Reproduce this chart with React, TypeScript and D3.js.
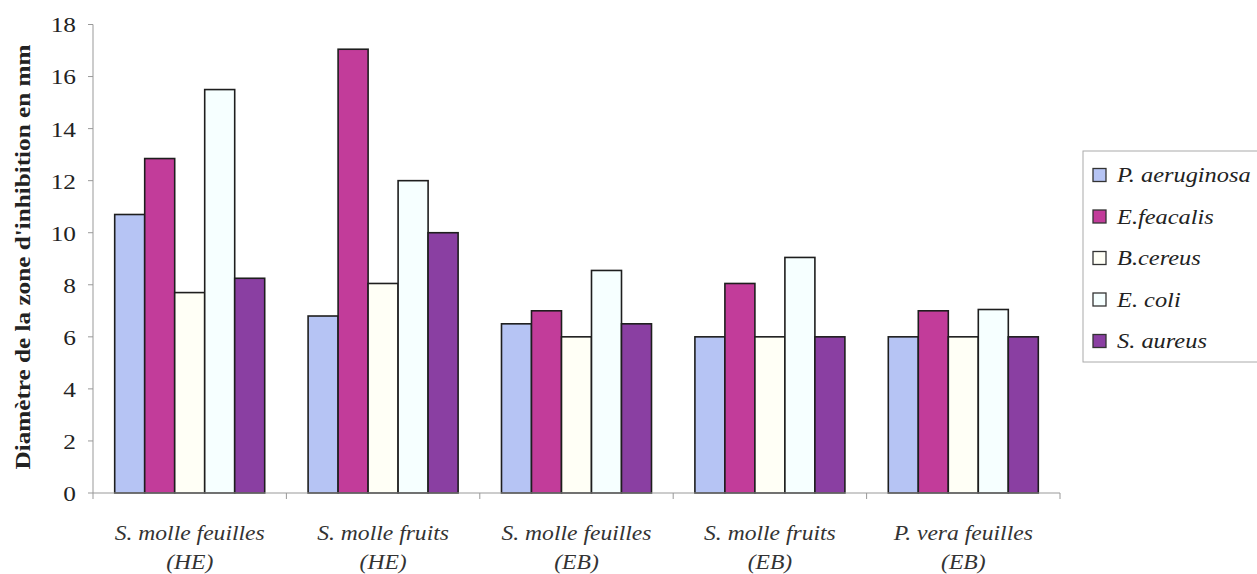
import React from "react";
import * as d3 from "d3";

const categories = [
  ["S. molle feuilles", "(HE)"],
  ["S. molle fruits", "(HE)"],
  ["S. molle feuilles", "(EB)"],
  ["S. molle fruits", "(EB)"],
  ["P. vera feuilles", "(EB)"],
];
const seriesNames = ["P. aeruginosa", "E.feacalis", "B.cereus", "E. coli", "S. aureus"];
const seriesColors = ["#b6c4f4", "#c23c9a", "#fffff6", "#f6ffff", "#8a3fa2"];
const pAeruginosa = [10.7, 6.8, 6.5, 6, 6];
const eFeacalis = [12.85, 17.05, 7, 8.05, 7];
const bCereus = [7.7, 8.05, 6, 6, 6];
const eColi = [15.5, 12, 8.55, 9.05, 7.05];
const sAureus = [8.25, 10, 6.5, 6, 6];
const seriesValues = [pAeruginosa, eFeacalis, bCereus, eColi, sAureus];
const yTicks = [0, 2, 4, 6, 8, 10, 12, 14, 16, 18];

const SERIF = "'Liberation Serif', 'Times New Roman', Times, serif";

export default function App() {
  const W = 1257, H = 574;
  const x0 = 93, x1 = 1060, yBase = 493, yTop = 24.5;
  const x = d3.scaleBand<number>().domain(d3.range(categories.length)).range([x0, x1]).paddingInner(0).paddingOuter(0);
  const y = d3.scaleLinear().domain([0, 18]).range([yBase, yTop]);
  const barW = 30;
  const ts = { fontFamily: SERIF } as React.CSSProperties;
  const sx = 1.18;
  return (
    <svg width={W} height={H} style={{ position: "absolute", left: 0, top: 0, background: "#fff" }}>
      <rect x={0} y={0} width={W} height={H} fill="#fff" />
      {categories.map((c, ci) => {
        const cx = (x(ci) as number) + x.bandwidth() / 2;
        const start = cx - (barW * seriesNames.length) / 2;
        return seriesValues.map((vals, si) => (
          <rect key={`${ci}-${si}`} x={start + si * barW} y={y(vals[ci])} width={barW} height={yBase - y(vals[ci])}
            fill={seriesColors[si]} stroke="#1e1e1e" strokeWidth={1.6} />
        ));
      })}
      <line x1={x0} x2={x0} y1={yTop} y2={yBase} stroke="#999" strokeWidth={1} />
      {yTicks.map((t) => (
        <g key={t}>
          <line x1={x0 - 5} x2={x0} y1={y(t)} y2={y(t)} stroke="#999" />
          <text transform={`translate(76, ${y(t)}) scale(1.15, 1)`} dy="0.36em" textAnchor="end" fontSize={22} fill="#222" style={ts}>{t}</text>
        </g>
      ))}
      <line x1={x0} x2={x1} y1={yBase} y2={yBase} stroke="#999" strokeWidth={1} />
      {d3.range(categories.length + 1).map((i) => {
        const xx = x0 + i * x.step();
        return <line key={i} x1={xx} x2={xx} y1={yBase} y2={yBase + 6} stroke="#999" />;
      })}
      {categories.map((c, ci) => {
        const cx = (x(ci) as number) + x.bandwidth() / 2;
        return (
          <g key={ci} transform={`translate(${cx}, 0) scale(${sx}, 1)`}>
            <text textAnchor="middle" fontSize={20} fontStyle="italic" fill="#333" style={ts}>
              <tspan x={0} y={540}>{c[0]}</tspan>
              <tspan x={0} y={569}>{c[1]}</tspan>
            </text>
          </g>
        );
      })}
      <text transform={`translate(30, 257) rotate(-90) scale(1.2, 1)`} textAnchor="middle" fontSize={21} fontWeight="bold" fill="#222" style={ts}>
        Diamètre de la zone d'inhibition en mm
      </text>
      <rect x={1083} y={151} width={190} height={211} fill="#fff" stroke="#aaa" strokeWidth={1} />
      {seriesNames.map((n, i) => {
        const cy = 175 + i * 41.5;
        return (
          <g key={n}>
            <rect x={1093} y={cy - 6.5} width={13} height={13} fill={seriesColors[i]} stroke="#333" strokeWidth={1.3} />
            <text transform={`translate(1117, ${cy}) scale(1.22, 1)`} dy="0.35em" fontSize={20} fontStyle="italic" fill="#222" style={ts}>{n}</text>
          </g>
        );
      })}
    </svg>
  );
}
